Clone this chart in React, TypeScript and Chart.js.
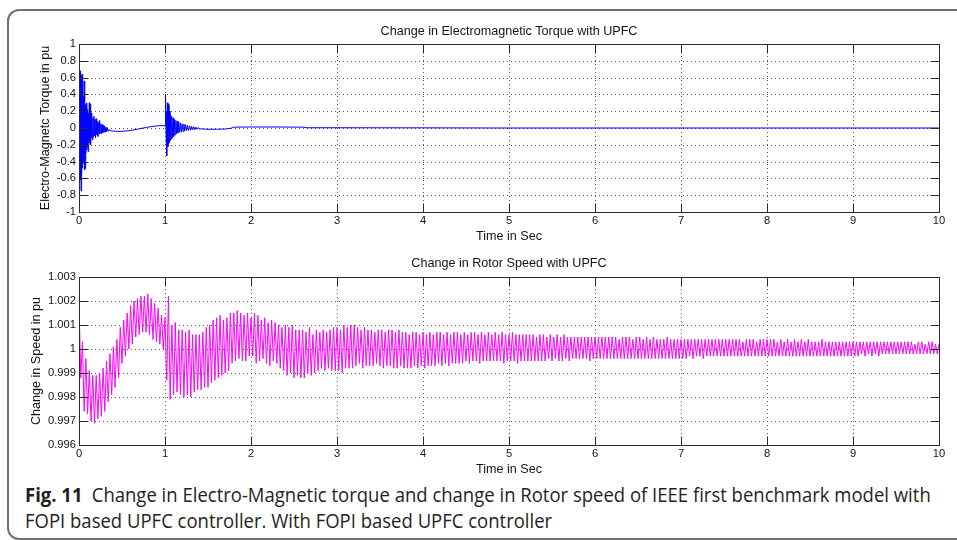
import React, { useEffect, useRef } from 'react';
import { Chart, registerables } from 'chart.js';

Chart.register(...registerables);

// ---------- axis ticks ----------
const timeTicks = [0, 1, 2, 3, 4, 5, 6, 7, 8, 9, 10];
const timeTickLabels = ['0', '1', '2', '3', '4', '5', '6', '7', '8', '9', '10'];
const torqueTicks = [-1, -0.8, -0.6, -0.4, -0.2, 0, 0.2, 0.4, 0.6, 0.8, 1];
const torqueTickLabels = ['-1', '-0.8', '-0.6', '-0.4', '-0.2', '0', '0.2', '0.4', '0.6', '0.8', '1'];
const speedTicks = [0.996, 0.997, 0.998, 0.999, 1, 1.001, 1.002, 1.003];
const speedTickLabels = ['0.996', '0.997', '0.998', '0.999', '1', '1.001', '1.002', '1.003'];

// ---------- torque series (time in s, torque in pu) ----------
const torqueTime = [
  0, 0.004, 0.008, 0.012, 0.016, 0.02, 0.024, 0.028, 0.032, 0.036, 0.04, 0.044, 0.048, 0.052, 0.056,
  0.06, 0.064, 0.068, 0.072, 0.076, 0.08, 0.084, 0.088, 0.092, 0.096, 0.1, 0.105, 0.11, 0.115, 0.12,
  0.125, 0.13, 0.135, 0.14, 0.145, 0.15, 0.156, 0.162, 0.168, 0.174, 0.18, 0.186, 0.192, 0.198, 0.205,
  0.212, 0.219, 0.226, 0.233, 0.24, 0.247, 0.254, 0.261, 0.268, 0.275, 0.282, 0.29, 0.298, 0.306, 0.314,
  0.322, 0.33, 0.34, 0.35, 0.38, 0.45, 0.5, 0.55, 0.6, 0.7, 0.8, 0.9, 0.99,
  1.0, 1.006, 1.012, 1.018, 1.022, 1.028, 1.034, 1.04, 1.046, 1.052, 1.058, 1.064, 1.07, 1.078, 1.086,
  1.094, 1.102, 1.11, 1.118, 1.126, 1.134, 1.142, 1.15, 1.16, 1.17, 1.18, 1.19, 1.2, 1.21, 1.22,
  1.23, 1.24, 1.25, 1.262, 1.274, 1.286, 1.298, 1.31, 1.322, 1.334, 1.346, 1.358, 1.37, 1.382,
  1.4, 1.5, 1.6, 1.7, 1.76, 1.8, 2.0, 2.3, 2.6, 2.65, 3.0, 4.0, 5.0, 10.0,
];
const torqueValue = [
  0, 1.0, -0.87, 0.68, -0.62, 0.66, -0.75, 0.62, -0.55, 0.64, -0.48, 0.45, -0.42, 0.38, -0.35,
  0.56, -0.5, 0.3, -0.48, 0.28, -0.3, 0.25, -0.26, 0.3, -0.22, 0.22, -0.28, 0.18, -0.15, 0.3,
  -0.18, 0.28, -0.2, 0.15, -0.12, 0.18, -0.14, 0.12, -0.1, 0.14, -0.09, 0.1, -0.12, 0.11, -0.08,
  0.08, -0.1, 0.06, -0.07, 0.09, -0.06, 0.05, -0.07, 0.04, -0.06, 0.03, -0.05, 0.02, -0.05, 0.01,
  -0.04, 0.0, -0.04, -0.02, -0.035, -0.04, -0.04, -0.035, -0.03, -0.01, 0.01, 0.025, 0.03,
  0.02, 0.4, -0.05, 0.2, -0.33, 0.3, -0.22, 0.28, -0.18, 0.2, -0.15, 0.16, -0.13, 0.14, -0.12,
  0.12, -0.1, 0.1, -0.08, 0.09, -0.07, 0.08, -0.06, 0.07, -0.05, 0.06, -0.05, 0.05, -0.04, 0.045,
  -0.035, 0.04, -0.03, 0.03, -0.03, 0.025, -0.025, 0.02, -0.02, 0.015, -0.02, 0.01, -0.015, 0.005,
  -0.01, -0.015, -0.015, -0.012, -0.005, 0.01, 0.012, 0.012, 0.01, 0.003, 0.003, 0.002, 0.0, 0.0,
];

// ---------- rotor speed series ----------
// sampled every 0.02 s from 0 to 10 s; values are deviations from 1 pu in units of 1e-4 pu
const speedSampleStep = 0.02;
const speedDeviationE4 = [
  20, -12, 3, -26, -4, -27, -9, -30, -11, -31,
  -11, -29, -10, -28, -8, -26, -5, -22, -2, -19,
  1, -16, 4, -12, 9, -6, 12, -3, 15, 0,
  18, 2, 20, 5, 21, 6, 22, 7, 22, 7,
  23, 6, 21, 4, 19, 3, 17, 2, 14, 0,
  13, -13, 22, -21, 10, -19, 11, -18, 8, -19,
  8, -20, 7, -19, 8, -20, 6, -18, 6, -17,
  6, -17, 7, -16, 9, -16, 10, -14, 12, -13,
  13, -12, 14, -11, 12, -10, 13, -9, 15, -6,
  15, -5, 16, -4, 15, -5, 14, -5, 15, -3,
  13, -3, 15, -6, 14, -5, 12, -4, 13, -6,
  11, -7, 12, -5, 11, -6, 10, -8, 9, -9,
  10, -11, 9, -10, 10, -12, 8, -11, 8, -12,
  8, -12, 7, -10, 9, -11, 6, -10, 8, -9,
  7, -8, 8, -9, 7, -8, 8, -9, 9, -9,
  9, -9, 8, -10, 10, -8, 9, -8, 10, -8,
  10, -7, 9, -6, 8, -8, 9, -7, 8, -7,
  8, -7, 7, -6, 8, -7, 8, -8, 7, -7,
  8, -7, 8, -8, 7, -8, 8, -7, 7, -8,
  7, -8, 6, -8, 7, -7, 7, -8, 6, -7,
  7, -8, 6, -7, 7, -7, 6, -7, 7, -6,
  7, -7, 6, -6, 7, -7, 6, -6, 7, -6,
  7, -6, 6, -6, 7, -5, 6, -6, 7, -5,
  7, -5, 6, -6, 7, -5, 6, -5, 7, -5,
  6, -5, 7, -5, 6, -5, 7, -6, 6, -5,
  6, -5, 7, -5, 6, -6, 6, -5, 6, -5,
  6, -5, 6, -5, 6, -5, 5, -5, 6, -5,
  6, -5, 5, -4, 6, -5, 5, -4, 6, -5,
  5, -5, 6, -4, 5, -5, 5, -4, 5, -4,
  5, -4, 5, -4, 5, -4, 5, -5, 5, -4,
  5, -4, 5, -4, 5, -4, 5, -4, 5, -4,
  5, -4, 5, -4, 4, -4, 5, -4, 5, -4,
  5, -4, 4, -4, 5, -4, 5, -4, 4, -4,
  5, -4, 4, -4, 5, -4, 4, -4, 4, -4,
  4, -4, 5, -4, 4, -4, 4, -4, 4, -4,
  4, -4, 4, -4, 4, -3, 4, -4, 4, -3,
  4, -3, 4, -4, 4, -3, 4, -3, 4, -3,
  4, -3, 4, -3, 4, -3, 4, -3, 4, -3,
  4, -3, 4, -3, 4, -3, 3, -3, 4, -3,
  4, -3, 4, -3, 3, -3, 4, -3, 4, -3,
  4, -3, 4, -3, 4, -3, 3, -3, 4, -3,
  3, -3, 4, -3, 3, -3, 4, -3, 3, -3,
  4, -3, 3, -3, 4, -3, 3, -3, 3, -3,
  3, -3, 4, -3, 3, -3, 3, -3, 3, -3,
  3, -3, 3, -3, 3, -3, 3, -3, 3, -3,
  3, -3, 3, -3, 3, -2, 3, -3, 3, -2,
  3, -3, 3, -2, 3, -3, 3, -2, 3, -2,
  3, -2, 3, -2, 3, -2, 3, -2, 3, -2,
  3, -2, 3, -2, 3, -2, 2, -2, 3, -2,
  3, -2, 2, -2, 3, -2, 3, -2, 2, -2,
  2,
];

// ---------- styling ----------
const FONT = "'Liberation Sans', Arial, Helvetica, sans-serif";
const TEXT_COLOR = '#141414';

const matlabAxesPlugin = {
  id: 'matlabAxes',
  beforeDatasetsDraw(chart: any) {
    const { ctx, chartArea, scales } = chart;
    const { left, right, top, bottom } = chartArea;
    ctx.save();
    ctx.strokeStyle = '#555555';
    ctx.lineWidth = 1;
    ctx.setLineDash([1, 3]);
    ctx.beginPath();
    scales.x.ticks.forEach((t: any) => {
      const px = Math.round(scales.x.getPixelForValue(t.value)) + 0.5;
      if (px <= left + 1 || px >= right - 1) return;
      ctx.moveTo(px, top);
      ctx.lineTo(px, bottom);
    });
    scales.y.ticks.forEach((t: any) => {
      const py = Math.round(scales.y.getPixelForValue(t.value)) + 0.5;
      if (py <= top + 1 || py >= bottom - 1) return;
      ctx.moveTo(left, py);
      ctx.lineTo(right, py);
    });
    ctx.stroke();
    ctx.restore();
  },
  afterDatasetsDraw(chart: any) {
    const { ctx, chartArea, scales } = chart;
    const L = Math.round(chartArea.left) + 0.5;
    const R = Math.round(chartArea.right) + 0.5;
    const T = Math.round(chartArea.top) + 0.5;
    const B = Math.round(chartArea.bottom) + 0.5;
    const len = 9;
    ctx.save();
    ctx.strokeStyle = '#2a2a2a';
    ctx.lineWidth = 1;
    ctx.setLineDash([]);
    ctx.beginPath();
    ctx.rect(L, T, R - L, B - T);
    scales.x.ticks.forEach((t: any) => {
      const px = Math.round(scales.x.getPixelForValue(t.value)) + 0.5;
      ctx.moveTo(px, B);
      ctx.lineTo(px, B - len);
      ctx.moveTo(px, T);
      ctx.lineTo(px, T + len);
    });
    scales.y.ticks.forEach((t: any) => {
      const py = Math.round(scales.y.getPixelForValue(t.value)) + 0.5;
      ctx.moveTo(L, py);
      ctx.lineTo(L + len, py);
      ctx.moveTo(R, py);
      ctx.lineTo(R - len, py);
    });
    ctx.stroke();
    ctx.restore();
  },
};

type PanelSpec = {
  title: string;
  yTitle: string;
  titlePad: { top: number; bottom: number };
  xAxisHeight: number;
  xTitleBottomPad: number;
  yTitleOffset: number;
  yMin: number;
  yMax: number;
  yTicks: number[];
  yTickLabels: string[];
  color: string;
  data: { x: number; y: number }[];
};

function buildConfig(p: PanelSpec): any {
  return {
    type: 'line',
    data: {
      datasets: [
        {
          data: p.data,
          borderColor: p.color,
          borderWidth: 1,
          pointRadius: 0,
          tension: 0,
          fill: false,
        },
      ],
    },
    plugins: [matlabAxesPlugin],
    options: {
      animation: false,
      responsive: false,
      devicePixelRatio: 1,
      parsing: false,
      normalized: true,
      layout: { padding: { left: 0, right: 18, top: 0, bottom: 0 } },
      plugins: {
        legend: { display: false },
        tooltip: { enabled: false },
        title: {
          display: true,
          fullSize: false,
          text: p.title,
          color: TEXT_COLOR,
          font: { family: FONT, size: 12.6, weight: 'normal' },
          padding: p.titlePad,
        },
      },
      scales: {
        x: {
          type: 'linear',
          min: 0,
          max: 10,
          afterBuildTicks: (s: any) => {
            s.ticks = timeTicks.map((v) => ({ value: v }));
          },
          afterFit: (s: any) => {
            s.height = p.xAxisHeight;
          },
          ticks: {
            autoSkip: false,
            maxRotation: 0,
            padding: 2.4,
            color: TEXT_COLOR,
            font: { family: FONT, size: 11.2 },
            callback: (_v: any, i: number) => timeTickLabels[i],
          },
          grid: { display: false, drawTicks: false },
          border: { display: false },
          title: {
            display: true,
            text: 'Time in Sec',
            color: TEXT_COLOR,
            font: { family: FONT, size: 12.6 },
            padding: { top: 0, bottom: p.xTitleBottomPad },
          },
        },
        y: {
          type: 'linear',
          min: p.yMin,
          max: p.yMax,
          afterBuildTicks: (s: any) => {
            s.ticks = p.yTicks.map((v) => ({ value: v }));
          },
          afterFit: (s: any) => {
            s.width = 79;
          },
          ticks: {
            autoSkip: false,
            padding: 3,
            color: TEXT_COLOR,
            font: { family: FONT, size: 11.2 },
            callback: (_v: any, i: number) => p.yTickLabels[i],
          },
          grid: { display: false, drawTicks: false },
          border: { display: false },
          title: {
            display: true,
            text: p.yTitle,
            color: TEXT_COLOR,
            font: { family: FONT, size: 12.6 },
            padding: { top: p.yTitleOffset, bottom: 0 },
          },
        },
      },
    },
  };
}

export default function App() {
  const torqueRef = useRef<HTMLCanvasElement | null>(null);
  const speedRef = useRef<HTMLCanvasElement | null>(null);

  useEffect(() => {
    const torqueData = torqueTime.map((t, i) => ({ x: t, y: torqueValue[i] }));
    const speedData = speedDeviationE4.map((d, i) => ({ x: i * speedSampleStep, y: 1 + d / 10000 }));

    const c1 = new Chart(
      torqueRef.current as HTMLCanvasElement,
      buildConfig({
        title: 'Change in Electromagnetic Torque with UPFC',
        yTitle: 'Electro-Magnetc Torque in pu',
        titlePad: { top: 24.44, bottom: 4.44 },
        xAxisHeight: 33,
        xTitleBottomPad: 1,
        yTitleOffset: 38.4,
        yMin: -1,
        yMax: 1,
        yTicks: torqueTicks,
        yTickLabels: torqueTickLabels,
        color: '#0000ff',
        data: torqueData,
      })
    );
    const c2 = new Chart(
      speedRef.current as HTMLCanvasElement,
      buildConfig({
        title: 'Change in Rotor Speed with UPFC',
        yTitle: 'Change in Speed in pu',
        titlePad: { top: 11.44, bottom: 5.44 },
        xAxisHeight: 35,
        xTitleBottomPad: 3.4,
        yTitleOffset: 29.4,
        yMin: 0.996,
        yMax: 1.003,
        yTicks: speedTicks,
        yTickLabels: speedTickLabels,
        color: '#ff00ff',
        data: speedData,
      })
    );
    return () => {
      c1.destroy();
      c2.destroy();
    };
  }, []);

  return (
    <div
      style={{
        position: 'absolute',
        left: 0,
        top: 0,
        width: 957,
        height: 540,
        overflow: 'hidden',
        background: '#ffffff',
      }}
    >
      <div
        style={{
          position: 'absolute',
          left: 7,
          top: 9,
          width: 1000,
          height: 531,
          boxSizing: 'border-box',
          border: '2px solid #707070',
          borderRadius: '12px 0 0 12px',
        }}
      />
      <canvas
        ref={torqueRef}
        width={957}
        height={245}
        style={{ position: 'absolute', left: 0, top: 0, display: 'block' }}
      />
      <canvas
        ref={speedRef}
        width={957}
        height={235}
        style={{ position: 'absolute', left: 0, top: 245, display: 'block' }}
      />
      <div
        style={{
          position: 'absolute',
          left: 25,
          top: 482,
          fontFamily: "'Open Sans', 'Noto Sans', sans-serif",
          fontSize: 20,
          lineHeight: '25.5px',
          color: '#231f20',
          whiteSpace: 'nowrap',
          transform: 'scaleX(0.925)',
          transformOrigin: 'left top',
        }}
      >
        <span style={{ fontWeight: 700 }}>Fig. 11</span>
        <span style={{ marginLeft: 10 }}>
          Change in Electro-Magnetic torque and change in Rotor speed of IEEE first benchmark model with
        </span>
        <br />
        FOPI based UPFC controller. With FOPI based UPFC controller
      </div>
    </div>
  );
}
